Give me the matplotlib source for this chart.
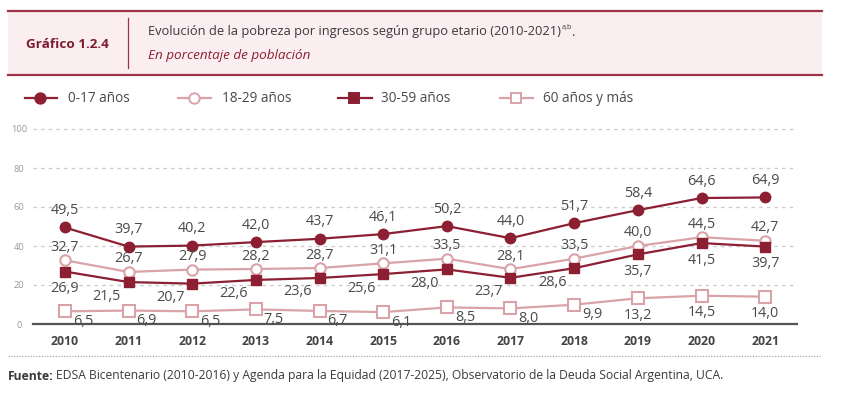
import matplotlib
matplotlib.use("Agg")
import matplotlib.pyplot as plt
from matplotlib.lines import Line2D
from matplotlib.patches import Rectangle

plt.rcParams['font.family'] = ['Open Sans', 'DejaVu Sans']

years = ['2010', '2011', '2012', '2013', '2014', '2015', '2016', '2017', '2018', '2019', '2020', '2021']
g0_17 = [49.5, 39.7, 40.2, 42.0, 43.7, 46.1, 50.2, 44.0, 51.7, 58.4, 64.6, 64.9]
g18_29 = [32.7, 26.7, 27.9, 28.2, 28.7, 31.1, 33.5, 28.1, 33.5, 40.0, 44.5, 42.7]
g30_59 = [26.9, 21.5, 20.7, 22.6, 23.6, 25.6, 28.0, 23.7, 28.6, 35.7, 41.5, 39.7]
g60 = [6.5, 6.9, 6.5, 7.5, 6.7, 6.1, 8.5, 8.0, 9.9, 13.2, 14.5, 14.0]
series_names = ['0-17 años', '18-29 años', '30-59 años', '60 años y más']
yticks = [0, 20, 40, 60, 80, 100]

DARK = '#8C1F32'
LIGHT = '#D9A3A7'
TXT = '#4a4a4a'
W, H = 861, 397

fig = plt.figure(figsize=(W / 100, H / 100), dpi=100)

def fx(x):
    return x / W

def fy(y):
    return 1 - y / H

# header box
fig.patches.append(Rectangle((fx(8), fy(75)), fx(822) - fx(8), fy(11) - fy(75),
                             transform=fig.transFigure, facecolor='#FBEEF0', edgecolor='none', zorder=0))
fig.add_artist(Line2D([fx(8), fx(822)], [fy(11), fy(11)], color='#9B3446', lw=1.6))
fig.add_artist(Line2D([fx(8), fx(822)], [fy(75), fy(75)], color='#9B3446', lw=1.6))
fig.add_artist(Line2D([fx(128), fx(128)], [fy(18), fy(68)], color='#9B3446', lw=0.9))
fig.text(fx(26), fy(44), 'Gráfico 1.2.4', color='#7E1D2E', fontsize=9.7, fontweight='bold',
         ha='left', va='center')
t = fig.text(fx(148), fy(32), 'Evolución de la pobreza por ingresos según grupo etario (2010-2021)',
             color='#3a3a3a', fontsize=9.3, ha='left', va='center')
fig.text(fx(148), fy(56), 'En porcentaje de población', color='#8C1F32', fontsize=9.7,
         style='italic', ha='left', va='center')

# legend
leg_items = [
    (25, 57, 40, 68, DARK, 'o', DARK),
    (178, 211, 194, 222, LIGHT, 'o', 'white'),
    (338, 372, 354, 381, DARK, 's', DARK),
    (500, 533, 516, 543, LIGHT, 's', 'white'),
]
for (x0, x1, xm, xt, col, mk, fc), name in zip(leg_items, series_names):
    fig.add_artist(Line2D([fx(x0), fx(x1)], [fy(98), fy(98)], color=col, lw=1.6))
    fig.add_artist(Line2D([fx(xm)], [fy(98)], marker=mk, markersize=7.5, markerfacecolor=fc,
                          markeredgecolor=col, markeredgewidth=1.4, linestyle='none'))
    fig.text(fx(xt), fy(98), name, color=TXT, fontsize=9.8, ha='left', va='center')

# axes
ax = fig.add_axes([fx(33), fy(324), fx(797) - fx(33), fy(129) - fy(324)])
ax.set_xlim(-0.5, 11.5)
ax.set_ylim(0, 100)
for s in ['top', 'right', 'left']:
    ax.spines[s].set_visible(False)
ax.spines['bottom'].set_color('#555555')
ax.spines['bottom'].set_linewidth(1.6)
ax.spines['bottom'].set_zorder(1)
for v in yticks[1:]:
    ax.axhline(v, color='#cccccc', lw=1.0, linestyle=(0, (2.5, 3)), zorder=0, clip_on=False)
ax.set_yticks(yticks)
ax.set_yticklabels([str(v) for v in yticks], fontsize=6.7, color='#9a9a9a')
for lab in ax.get_yticklabels():
    lab.set_horizontalalignment('center')
ax.tick_params(axis='y', length=0, pad=10)
x = list(range(len(years)))
ax.set_xticks(x)
ax.set_xticklabels(years, fontsize=8.8, fontweight='bold', color='#444444')
ax.tick_params(axis='x', length=0, pad=8)

ax.plot(x, g60, color=LIGHT, lw=1.6, marker='s', markersize=8, markerfacecolor='white',
        markeredgecolor=LIGHT, markeredgewidth=1.5, zorder=3, clip_on=False)
ax.plot(x, g30_59, color=DARK, lw=1.6, marker='s', markersize=7.5, markerfacecolor=DARK,
        markeredgecolor=DARK, zorder=4, clip_on=False)
ax.plot(x, g18_29, color=LIGHT, lw=1.6, marker='o', markersize=7.5, markerfacecolor='white',
        markeredgecolor=LIGHT, markeredgewidth=1.5, zorder=3, clip_on=False)
ax.plot(x, g0_17, color=DARK, lw=1.6, marker='o', markersize=7.5, markerfacecolor=DARK,
        markeredgecolor=DARK, zorder=5, clip_on=False)

def fmt(v):
    return f'{v:.1f}'.replace('.', ',')

def lab(xi, v, dx, dy):
    ax.annotate(fmt(v), (xi, v), xytext=(dx, -dy), textcoords='offset pixels',
                ha='center', va='center', fontsize=10.4, color=TXT, zorder=6)

for i in x:
    lab(i, g0_17[i], 0, -17)
    lab(i, g18_29[i], 0, -13)
    if i == 0 or i >= 9:
        lab(i, g30_59[i], 0, 17)
    else:
        lab(i, g30_59[i], -22, 14)
    if i >= 9:
        lab(i, g60[i], 0, 17)
    else:
        lab(i, g60[i], 18, 10)

# footer
fig.add_artist(Line2D([fx(8), fx(820)], [fy(356), fy(356)], color='#999999', lw=0.8,
                      linestyle=(0, (1, 1.5))))
ft = fig.text(fx(8), fy(376), 'Fuente:', color='#3a3a3a', fontsize=8.7, fontweight='bold',
              ha='left', va='center')

fig.canvas.draw()
r = fig.canvas.get_renderer()
bb = t.get_window_extent(r)
sup = fig.text(bb.x1 / W + 0.001, fy(28), 'a,b', color='#3a3a3a', fontsize=5.2, ha='left', va='center')
fig.canvas.draw()
bb2 = sup.get_window_extent(r)
fig.text(bb2.x1 / W, fy(32), '.', color='#3a3a3a', fontsize=9.3, ha='left', va='center')
bf = ft.get_window_extent(r)
fig.text(bf.x1 / W + 0.003, fy(376),
         'EDSA Bicentenario (2010-2016) y Agenda para la Equidad (2017-2025), Observatorio de la Deuda Social Argentina, UCA.',
         color='#3a3a3a', fontsize=8.7, ha='left', va='center')

fig.savefig('out.png', dpi=100)
